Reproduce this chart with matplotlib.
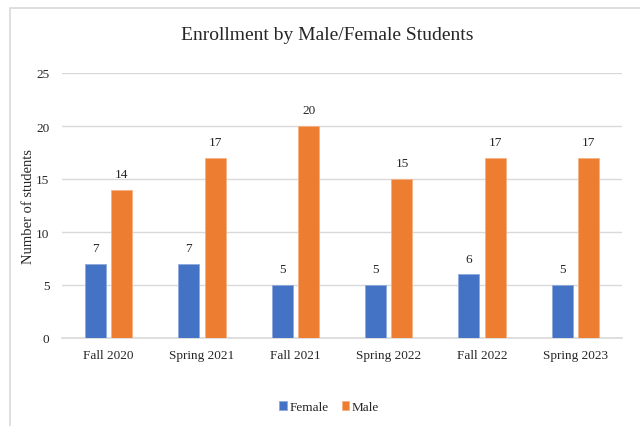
import numpy as np
import matplotlib
matplotlib.use("Agg")
import matplotlib.pyplot as plt
from matplotlib.patches import Rectangle

plt.rcParams['font.family'] = ['Liberation Serif', 'DejaVu Serif']

terms = ["Fall 2020", "Spring 2021", "Fall 2021", "Spring 2022", "Fall 2022", "Spring 2023"]
female = [7, 7, 5, 5, 6, 5]
male = [14, 17, 20, 15, 17, 17]

blue = "#4472C4"
orange = "#ED7D31"
txt = "#262626"

fig = plt.figure(figsize=(6.4, 4.27), dpi=100)
# chart frame (only top/left edges visible in the reference)
fig.patches.append(Rectangle((10 / 640, -0.1), 1.2, 1 - 9 / 427 + 0.1,
                             transform=fig.transFigure, fill=False,
                             edgecolor="#D9D9D9", linewidth=1.2))

ax = fig.add_axes([62 / 640, 1 - 339 / 427, (622 - 62) / 640, (339 - 74) / 427])
x = np.arange(len(terms))
w = 0.225
off = 0.1425
b1 = ax.bar(x - off, female, w, color=blue, edgecolor="#8EA9DB", linewidth=0.6,
            label="Female", zorder=3)
b2 = ax.bar(x + off, male, w, color=orange, edgecolor="#F4B183", linewidth=0.6,
            label="Male", zorder=3)

for bars in (b1, b2):
    for r in bars:
        ax.annotate(str(int(r.get_height())), (r.get_x() + r.get_width() / 2, r.get_height()),
                    xytext=(0, 7), textcoords="offset points", ha="center", va="bottom",
                    fontsize=9.5, color=txt)

ax.set_xlim(-0.5, len(terms) - 0.5)
ax.set_ylim(0, 25)
ax.set_yticks(range(0, 26, 5))
ax.set_xticks(x)
ax.set_xticklabels(terms)
ax.tick_params(axis="both", length=0, labelsize=9.5, labelcolor=txt)
ax.tick_params(axis="x", pad=8)
ax.tick_params(axis="y", pad=9)
ax.grid(axis="y", color="#D9D9D9", linewidth=1, zorder=0)
for s in ["top", "right", "left"]:
    ax.spines[s].set_visible(False)
ax.spines["bottom"].set_color("#D9D9D9")
ax.spines["bottom"].set_linewidth(1.2)

ax.set_ylabel("Number of students", fontsize=10.5, color=txt)
ax.yaxis.set_label_coords((35 - 62) / 560, 0.5)
fig.text(327 / 640, 1 - 35 / 427, "Enrollment by Male/Female Students",
         ha="center", va="center", fontsize=14, color=txt)

fig.legend(handles=[b1, b2], loc="center", bbox_to_anchor=(329 / 640, 1 - 408 / 427),
           ncol=2, frameon=False, fontsize=9.5, handlelength=0.6, handleheight=0.6,
           handletextpad=0.2, columnspacing=1.0, labelcolor=txt)

fig.savefig("out.png", dpi=100)
